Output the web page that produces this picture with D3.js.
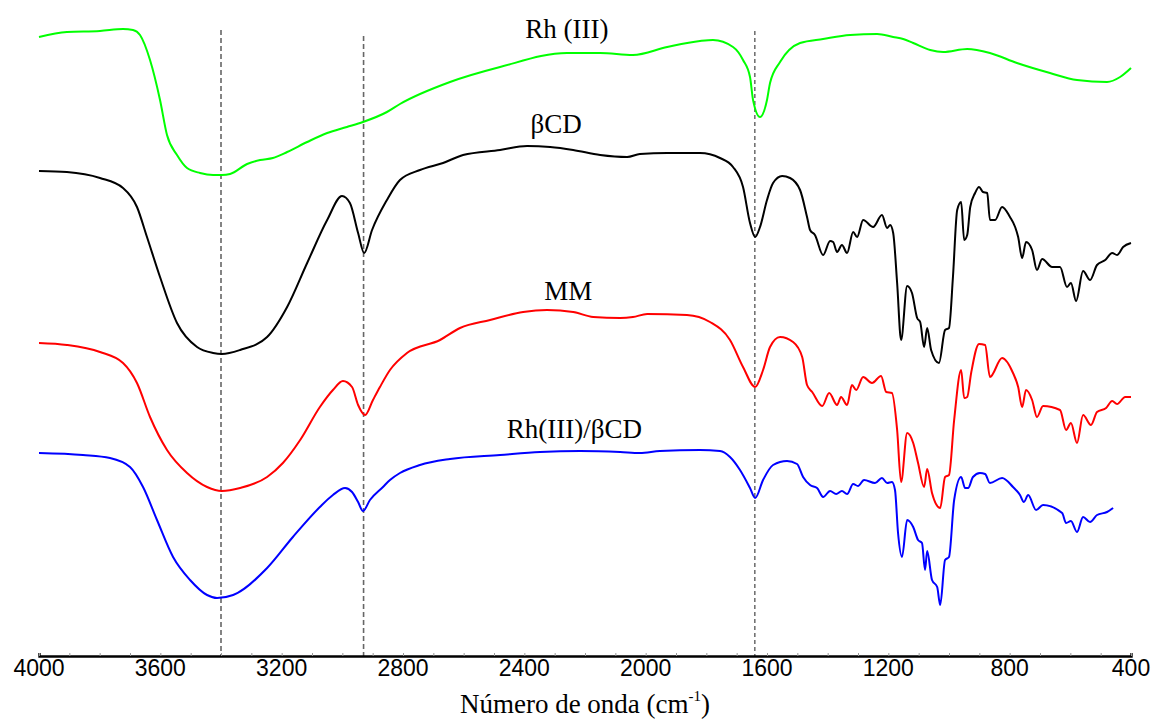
<!DOCTYPE html>
<html>
<head>
<meta charset="utf-8">
<script src="https://cdn.jsdelivr.net/npm/d3@7"></script>
<style>
  body { margin: 0; background: #fff; }
  svg { display: block; }
</style>
</head>
<body>
<svg id="chart" width="1152" height="727"></svg>
<script>
// FT-IR spectra, wavenumber (cm-1) vs transmittance (offset, arbitrary units)

var rhIII = [
  [4000,124],[3908,125],[3799,125.2],[3723,125.6],[3690,125.4],[3667,124.4],[3634,119.4],
  [3601,111.4],[3578,104.4],[3545,100.4],[3512,97.8],[3469,96.8],[3426,96.4],[3397,96.4],
  [3370,96.6],[3314,98.6],[3271,99.4],[3229,99.8],[3182,101],[3116,103],[3050,104.8],
  [2985,106],[2932,107],[2853,109],[2810,110.6],[2645,115],[2480,118],[2259,120.8],
  [2150,120.8],[2042,120.4],[1929,122],[1821,123.2],[1778,123.4],[1712,122],[1679,119.4],
  [1656,116],[1646,111.4],[1623,108],[1600,111.4],[1590,114.8],[1557,119],[1491,122.8],
  [1415,123.6],[1326,124.4],[1237,124.6],[1184,124],[1151,123.6],[1118,122.8],[1062,121.4],
  [1019,121],[940,121.6],[865,120.8],[776,118.8],[667,116.8],[578,115.4],[479,115],
  [436,116],[400,117.8]
];

var betaCD = [
  [4000,97.2],[3908,97],[3799,95.8],[3723,93.8],[3677,90],[3644,84],[3601,76],[3545,66.8],
  [3479,62],[3426,60.8],[3397,60.6],[3337,61.4],[3248,64],[3182,70],[3116,78.8],[3050,87.4],
  [3001,92.2],[2975,90.8],[2948,84.8],[2928,80.8],[2902,85.4],[2853,91.4],[2810,95.4],
  [2744,97.4],[2668,98.8],[2602,100.4],[2480,101.4],[2391,102.2],[2315,102],[2239,101.4],
  [2150,100.4],[2061,100],[2019,100.6],[1929,100.8],[1821,100.8],[1755,99.8],[1712,98],
  [1679,94],[1656,86.8],[1639,84],[1623,86],[1600,91.4],[1580,94.8],[1550,96.2],[1524,95.8],
  [1491,93.4],[1468,88],[1458,85.4],[1442,84.4],[1415,80.4],[1392,83.2],[1382,83],[1369,81],
  [1353,82.4],[1336,80.8],[1316,85],[1303,84],[1283,87.4],[1250,86],[1221,88.4],[1204,85.8],
  [1194,86.4],[1184,84.8],[1171,74.8],[1158,63.4],[1138,74.2],[1122,72.8],[1105,67.8],
  [1095,67],[1082,62],[1072,65.8],[1059,61.4],[1033,58.8],[1013,65.4],[1000,65.8],[987,76],
  [973,89.4],[960,91],[950,83.4],[940,84.4],[930,90],[914,92.8],[901,94],[888,93],[874,92.8],
  [865,87.4],[848,87.4],[825,90],[799,88],[782,86],[772,84],[759,79.8],[746,83],[726,81.4],
  [710,77.4],[693,79.6],[660,78],[634,78],[611,74],[598,74.8],[581,71.2],[558,77.2],
  [535,75.4],[512,78.4],[485,79.4],[462,80.8],[446,80.4],[426,82],[400,82.8]
];

var mm = [
  [4000,62.8],[3908,62.4],[3799,61],[3723,58.8],[3677,54.8],[3634,48],[3578,41.4],[3512,36.8],
  [3446,34],[3397,33.2],[3337,33.8],[3248,36],[3196,38.8],[3139,43.4],[3074,50],[3031,53.4],
  [2998,55.2],[2968,54],[2948,50.4],[2925,48.4],[2899,51.4],[2876,54],[2843,57.4],[2787,60.8],
  [2678,63.4],[2612,65.8],[2513,67.4],[2404,69],[2325,69.4],[2239,69],[2173,68],[2084,67.8],
  [2042,68],[1995,68.6],[1864,68.4],[1788,67],[1722,63.4],[1679,58],[1639,54],[1613,57.4],
  [1590,62],[1557,64],[1514,63],[1484,60],[1468,54.4],[1451,53],[1418,50.2],[1395,52.8],
  [1369,50.4],[1356,52],[1336,50.4],[1320,54.4],[1306,53.4],[1283,56],[1254,54.8],[1224,56.2],
  [1207,53],[1188,52.8],[1171,45.4],[1158,35],[1138,44.8],[1118,42.8],[1102,38.8],[1082,34],
  [1072,37.6],[1056,32.8],[1029,29.8],[1013,36],[1000,36.4],[983,47.4],[960,57.4],[950,51.8],
  [940,52],[927,56.8],[901,62.6],[881,62.4],[865,56],[825,59.8],[789,56.8],[772,54],[759,50],
  [746,53.4],[726,51.4],[710,48],[690,50.2],[634,49.4],[614,45.4],[598,46.8],[578,42.8],
  [558,48.4],[532,46.4],[512,49],[482,49.8],[462,51.2],[446,50.6],[419,52],[400,52]
];

var rhBetaCD = [
  [4000,40.8],[3855,40.4],[3766,39.8],[3700,38],[3657,34],[3611,27.4],[3558,20],[3502,15.4],
  [3446,12.4],[3413,11.8],[3360,12.4],[3248,17.8],[3163,24],[3074,30],[3031,32.4],[2991,33.8],
  [2968,33],[2948,31],[2932,29.2],[2909,31.4],[2866,34],[2843,35.4],[2810,36.8],[2744,38.4],
  [2645,39.6],[2480,40.4],[2348,41],[2216,41.2],[2084,41],[2019,40.8],[1953,41.2],[1821,41.4],
  [1755,41.2],[1722,40],[1689,37.4],[1656,33.8],[1639,31.8],[1613,35.4],[1580,38.4],[1534,39.2],
  [1501,38.6],[1481,36],[1458,34.4],[1435,33.8],[1415,32],[1392,33.2],[1372,32.6],[1353,33.2],
  [1336,32.6],[1316,34.6],[1300,34.2],[1280,35.4],[1244,34.8],[1221,35.8],[1204,34.8],
  [1188,35],[1178,33.4],[1168,24.8],[1155,20],[1138,27.4],[1118,26],[1102,23.4],[1089,22.8],
  [1079,17.4],[1072,21.2],[1056,15.4],[1039,14],[1029,10.4],[1013,19.4],[1000,20],[983,31.4],
  [960,36],[947,33.8],[937,33.8],[921,36],[898,36.8],[881,36.6],[865,34.8],[825,35.8],[789,34],
  [766,32.4],[753,31],[739,32.4],[713,29.4],[690,30.4],[627,28.8],[614,26.8],[598,27.2],
  [578,25],[558,28],[535,27],[512,28.4],[479,29],[459,29.8]
];

var seriesNames = ['Rh (III)', '\u03b2CD', 'MM', 'Rh(III)/\u03b2CD'];
var seriesColors = ['#00ff00', '#000000', '#ff0000', '#0000ff'];
var seriesData = [rhIII, betaCD, mm, rhBetaCD];
// label anchor (wavenumber, value) for each spectrum name
var labelPos = [[2260,123.8],[2295,104.8],[2255,71.4],[2235,43.8]];

// marked bands (cm-1) and top of each dashed guide
var bands = [3400, 2930, 1640];
var bandTops = [125.4, 124.2, 125.2];

var xTicks = [4000, 3600, 3200, 2800, 2400, 2000, 1600, 1200, 800, 400];

var svg = d3.select('#chart');

var x = d3.scaleLinear().domain([4000, 400]).range([39, 1131]);
var y = d3.scaleLinear().domain([0, 130]).range([657, 7]);
var axisY = 656;

var line = d3.line()
    .x(function (d) { return x(d[0]); })
    .y(function (d) { return y(d[1]); })
    .curve(d3.curveMonotoneX);

// dashed guides
svg.append('g').selectAll('line')
    .data(bands)
    .enter().append('line')
    .attr('x1', function (d) { return x(d); })
    .attr('x2', function (d) { return x(d); })
    .attr('y1', function (d, i) { return y(bandTops[i]); })
    .attr('y2', axisY)
    .attr('stroke', function (d, i) { return i < 2 ? '#666' : '#333'; })
    .attr('stroke-width', function (d, i) { return i < 2 ? 1.6 : 1.1; })
    .attr('stroke-dasharray', function (d, i) { return i < 2 ? '5,3' : '4,3'; });

// spectra
svg.append('g').selectAll('path')
    .data(seriesData)
    .enter().append('path')
    .attr('d', line)
    .attr('fill', 'none')
    .attr('stroke', function (d, i) { return seriesColors[i]; })
    .attr('stroke-width', 2)
    .attr('stroke-linejoin', 'round');

// spectrum names
svg.append('g').selectAll('text')
    .data(seriesNames)
    .enter().append('text')
    .attr('x', function (d, i) { return x(labelPos[i][0]); })
    .attr('y', function (d, i) { return y(labelPos[i][1]); })
    .attr('text-anchor', 'middle')
    .attr('font-family', '"Liberation Serif", "Times New Roman", serif')
    .attr('font-size', 27)
    .attr('fill', '#000')
    .text(function (d) { return d; });

// x axis
var axisG = svg.append('g')
    .attr('transform', 'translate(0,' + axisY + ')');

axisG.call(d3.axisBottom(x).tickValues(d3.range(4000, 399, -100)).tickSize(-3).tickFormat(''));
axisG.select('.domain').attr('stroke', '#000').attr('stroke-width', 2.4);
axisG.selectAll('.tick line').attr('stroke', '#999').attr('stroke-width', 1);

axisG.selectAll('text.lbl')
    .data(xTicks)
    .enter().append('text')
    .attr('class', 'lbl')
    .attr('x', function (d) { return x(d); })
    .attr('y', 20)
    .attr('text-anchor', 'middle')
    .attr('font-family', '"Liberation Sans", Arial, sans-serif')
    .attr('font-size', 23)
    .attr('fill', '#000')
    .text(function (d) { return d; });

var title = svg.append('text')
    .attr('x', (x(4000) + x(400)) / 2)
    .attr('y', 713)
    .attr('text-anchor', 'middle')
    .attr('font-family', '"Liberation Serif", "Times New Roman", serif')
    .attr('font-size', 27)
    .attr('fill', '#000');
title.append('tspan').text('N\u00famero de onda (cm');
title.append('tspan').attr('dy', -12).attr('font-size', 15).text('-1');
title.append('tspan').attr('dy', 12).text(')');
</script>
</body>
</html>
